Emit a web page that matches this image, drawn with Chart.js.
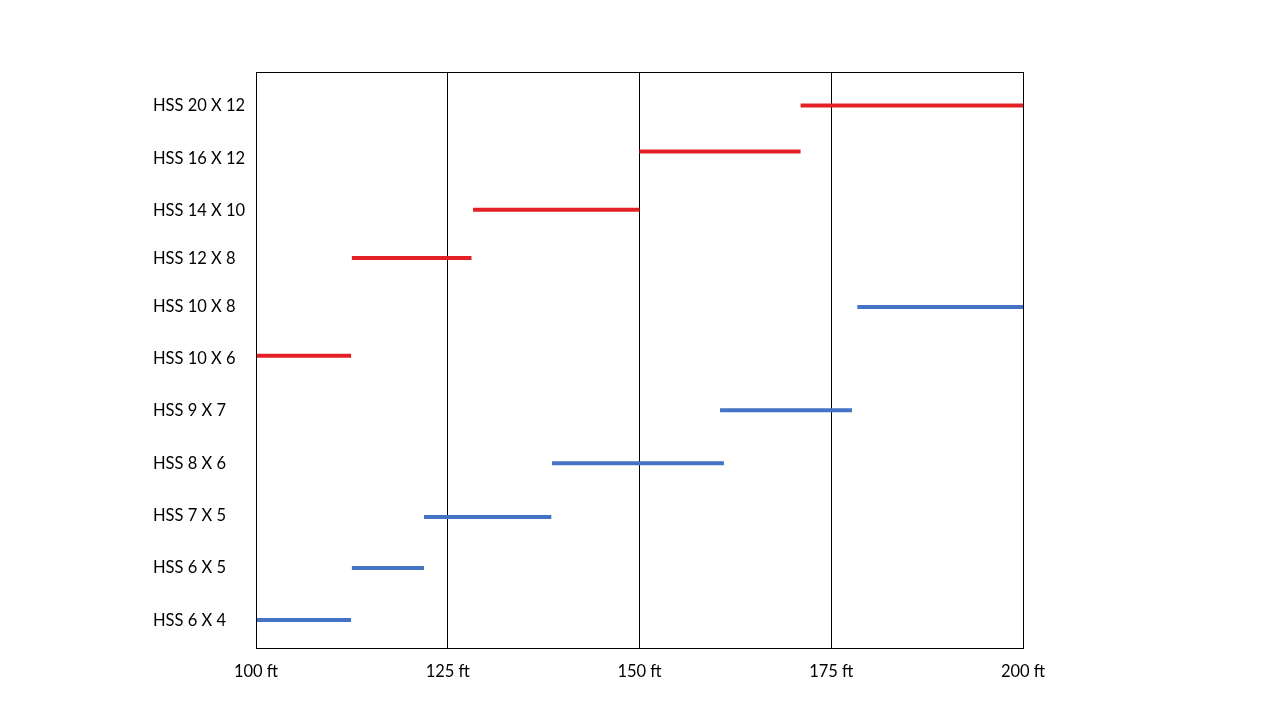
<!DOCTYPE html>
<html>
<head>
<meta charset="utf-8">
<script src="https://cdn.jsdelivr.net/npm/chart.js@4/dist/chart.umd.min.js"></script>
<style>
  html, body { margin: 0; padding: 0; background: #ffffff; }
  #c { display: block; }
</style>
</head>
<body>
<canvas id="c" width="1280" height="720"></canvas>
<script>
// Section sizes (bottom to top)
const sizes = ['HSS 6 X 4', 'HSS 6 X 5', 'HSS 7 X 5', 'HSS 8 X 6', 'HSS 9 X 7', 'HSS 10 X 6', 'HSS 10 X 8', 'HSS 12 X 8', 'HSS 14 X 10', 'HSS 16 X 12', 'HSS 20 X 12'];
// Row position of each label on the vertical scale
const labelRows = [0.53, 1.54, 2.52, 3.52, 4.53, 5.53, 6.51, 7.44, 8.36, 9.35, 10.35];
// Row position of each span
const spanRows = [0.535, 1.53, 2.50, 3.53, 4.54, 5.58, 6.51, 7.45, 8.37, 9.48, 10.36];
// Span range in feet
const spanStart = [100, 112.5, 121.9, 138.6, 160.5, 100, 178.4, 112.5, 128.3, 150, 171];
const spanEnd = [112.4, 121.9, 138.5, 161, 177.7, 112.4, 200, 128.1, 150, 171, 200];
// Series group of each span
const spanGroup = ['blue', 'blue', 'blue', 'blue', 'blue', 'red', 'blue', 'red', 'red', 'red', 'red'];
// Axis ticks
const xTicks = [100, 125, 150, 175, 200];
const xUnit = ' ft';

const groupColors = { red: '#E32026', blue: '#4472C4' };

const datasets = sizes.map((name, i) => ({
  label: name,
  data: [{ x: spanStart[i], y: spanRows[i] }, { x: spanEnd[i], y: spanRows[i] }],
  borderColor: groupColors[spanGroup[i]],
  backgroundColor: groupColors[spanGroup[i]],
  borderWidth: 4,
  pointRadius: 0,
  showLine: true,
  fill: false,
  tension: 0
}));

const frame = {
  id: 'frame',
  afterDraw(chart) {
    const { ctx, chartArea: a } = chart;
    ctx.save();
    ctx.strokeStyle = '#000000';
    ctx.lineWidth = 1;
    ctx.strokeRect(Math.round(a.left) + 0.5, Math.round(a.top) + 0.5, Math.round(a.right - a.left), Math.round(a.bottom - a.top));
    ctx.restore();
  }
};

const font = { family: 'Lato', size: 16.5 };

new Chart(document.getElementById('c'), {
  type: 'scatter',
  data: { datasets },
  options: {
    responsive: false,
    animation: false,
    devicePixelRatio: 1,
    layout: { padding: { left: 153, right: 257, top: 72, bottom: 0 } },
    plugins: { legend: { display: false }, tooltip: { enabled: false } },
    scales: {
      x: {
        type: 'linear',
        min: 100,
        max: 200,
        afterBuildTicks: (s) => { s.ticks = xTicks.map(v => ({ value: v })); },
        afterFit: (s) => { s.height = 72; },
        ticks: {
          color: '#000000',
          font,
          padding: 14,
          maxRotation: 0,
          callback: (v) => v + xUnit
        },
        grid: { color: '#000000', lineWidth: 1, drawTicks: false },
        border: { color: '#000000', width: 1 }
      },
      y: {
        type: 'linear',
        min: 0,
        max: 11,
        afterBuildTicks: (s) => { s.ticks = labelRows.map(v => ({ value: v })); },
        afterFit: (s) => { s.width = 103; },
        ticks: {
          color: '#000000',
          font,
          crossAlign: 'far',
          padding: 0,
          autoSkip: false,
          callback: (v, i) => sizes[i]
        },
        grid: { display: false, drawTicks: false },
        border: { color: '#000000', width: 1 }
      }
    }
  },
  plugins: [frame]
});
</script>
</body>
</html>
